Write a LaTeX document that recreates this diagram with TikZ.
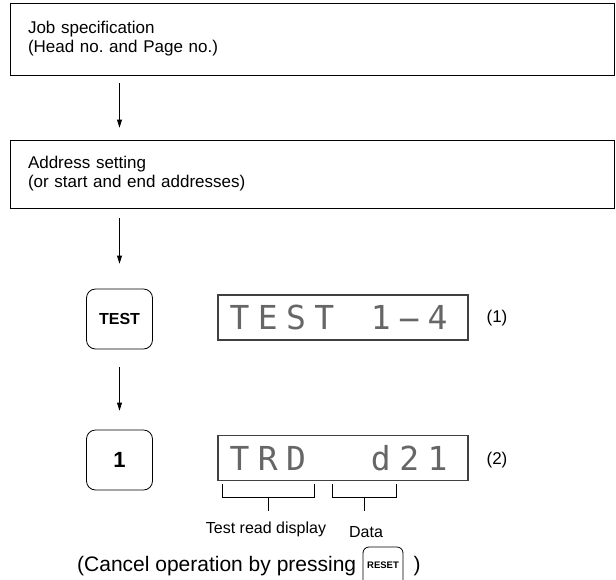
\documentclass[tikz,border=0pt]{standalone}
\usepackage{fontspec}
\setmainfont{Liberation Sans}
\newfontfamily\dotfont{DejaVu Sans Mono}
\usetikzlibrary{arrows.meta}
\newcommand{\dmc}[1]{\makebox[28.3pt]{#1}}
\frenchspacing
\begin{document}
\begin{tikzpicture}[x=1pt,y=-1pt,
  box/.style={draw, line width=0.8pt, text width=568pt, align=left, inner xsep=18pt,
    inner ysep=0pt, font=\fontsize{17}{19}\selectfont},
  arr/.style={line width=0.8pt, -{Triangle[length=8pt,width=5pt]}},
  keybox/.style={draw, line width=0.8pt, rounded corners=9pt, minimum width=66pt,
    minimum height=60pt, inner sep=0pt},
  disp/.style={draw=black!75, line width=1.1pt, minimum width=250pt, minimum height=45pt, inner sep=0pt},
  dmtext/.style={inner sep=0pt, text=black!60, font=\dotfont\fontsize{33}{33}\selectfont},
  lbl/.style={inner sep=0pt, font=\fontsize{17}{19}\selectfont},
  small/.style={inner sep=0pt, font=\fontsize{16}{18}\selectfont, anchor=base},
  brk/.style={line width=0.8pt}]
\useasboundingbox (0,0) rectangle (616,579);

\node[box, minimum height=72pt] (job) at (312,39) {Job specification\\(Head no. and Page no.)};
\node[box, minimum height=68pt] (addr) at (312,174) {Address setting\\(or start and end addresses)};

\node[keybox, font=\bfseries\fontsize{16}{18}\selectfont] (test) at (119.5,319) {TEST};
\node[keybox, font=\bfseries\fontsize{22}{24}\selectfont] (one) at (119.5,460) {1};

\draw[arr, shorten <=8pt, shorten >=12pt] (job.south -| test.north) -- (addr.north -| test.north);
\draw[arr, shorten <=10pt, shorten >=25pt] (addr.south -| test.north) -- (test.north);
\draw[arr, shorten <=18pt, shorten >=19pt] (test.south) -- (one.north);

\node[disp] (d1) at (343,317.5) {};
\node[disp] (d2) at (343,458) {};
\node[dmtext] (d1t) at (338.5,317.5) {\dmc{T}\dmc{E}\dmc{S}\dmc{T}\dmc{ }\dmc{1}\dmc{\scalebox{2.2}[1]{-}}\dmc{4}};
\node[dmtext] (d2t) at (338.5,458) {\dmc{T}\dmc{R}\dmc{D}\dmc{ }\dmc{ }\dmc{d}\dmc{2}\dmc{1}};
\node[lbl] (n1) at (497,318) {(1)};
\node[lbl] (n2) at (497,460) {(2)};

\draw[brk] (222,484) |- (314,497) -- (314,484);
\draw[brk] (268,497) -- (268,511);
\draw[brk] (332,484) |- (396,497) -- (396,484);
\draw[brk] (364,497) -- (364,511);
\node[small] (trd) at (266,533) {Test read display};
\node[small] (data) at (366,537) {Data};

\node[inner sep=0pt, anchor=base west, font=\fontsize{21}{23}\selectfont] (cancel) at (77,571) {(Cancel operation by pressing};
\draw[line width=0.8pt, rounded corners=6pt] (363,592) -- (363,547) -- (403,547) -- (403,592);
\node[inner sep=0pt, anchor=base, font=\bfseries\fontsize{9.5}{10}\selectfont] (reset) at (383,568) {RESET};
\node[inner sep=0pt, anchor=base, font=\fontsize{21}{23}\selectfont] (close) at (417,571) {)};
\end{tikzpicture}
\end{document}
